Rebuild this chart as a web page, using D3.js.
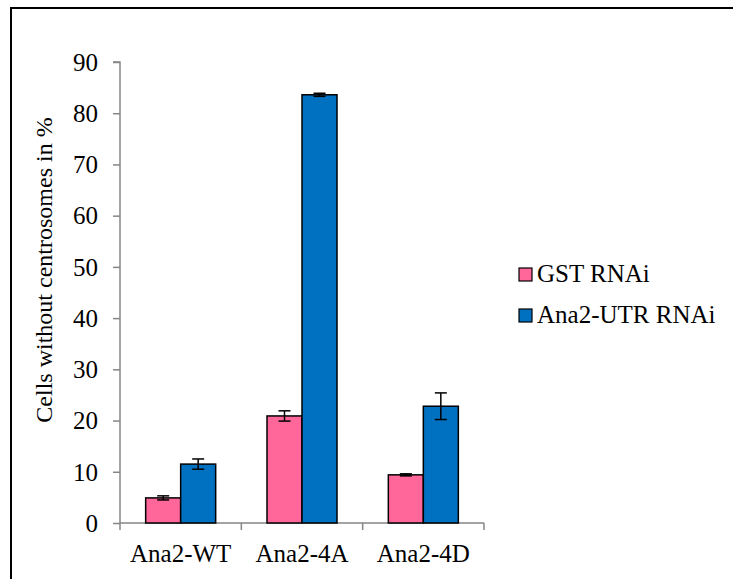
<!DOCTYPE html>
<html><head><meta charset="utf-8">
<script src="https://cdn.jsdelivr.net/npm/d3@7"></script>
</head><body style="margin:0">
<svg id="c" width="733" height="579" font-family="Liberation Serif"></svg>
<script>
const categories = ["Ana2-WT", "Ana2-4A", "Ana2-4D"];
const seriesNames = ["GST RNAi", "Ana2-UTR RNAi"];
const gstValues = [4.9, 20.9, 9.4];
const gstErrors = [0.4, 1.0, 0.2];
const utrValues = [11.5, 83.6, 22.8];
const utrErrors = [1.0, 0.3, 2.6];
const yTicks = [0, 10, 20, 30, 40, 50, 60, 70, 80, 90];
const colors = ["#ff6699", "#0070c0"];
const FONT = "Liberation Serif";

const svg = d3.select("#c");
svg.append("rect").attr("x", 11).attr("y", 8).attr("width", 730).attr("height", 580)
  .attr("fill", "none").attr("stroke", "#000").attr("stroke-width", 2);

const pL = 120, pR = 484, pT = 62, pB = 523;
const x = d3.scaleBand().domain(categories).range([pL, pR]);
const y = d3.scaleLinear().domain([0, 90]).range([pB, pT]);
const inner = d3.scaleBand().domain(seriesNames).range([0, 70]);

const yAxis = svg.append("g").attr("transform", `translate(${pL},0)`)
  .call(d3.axisLeft(y).tickValues(yTicks).tickSize(7).tickPadding(15));
yAxis.attr("font-family", FONT).attr("font-size", 25);
yAxis.select(".domain").attr("stroke", "#868686").attr("stroke-width", 1.5).attr("d", `M-7,${pT}H0V${pB}`);
yAxis.selectAll(".tick line").attr("stroke", "#868686").attr("stroke-width", 1.5);
yAxis.selectAll("text").style("font-family", FONT).attr("font-size", 25).attr("fill", "#000").attr("dy", "0.33em");

const xAxis = svg.append("g").attr("transform", `translate(0,${pB})`);
xAxis.append("path").attr("d", `M${pL},0H${pR}`).attr("stroke", "#868686").attr("stroke-width", 1.5);
const tickPos = categories.map(c => x(c)).concat([pR]);
xAxis.selectAll("line.t").data(tickPos).join("line").attr("x1", d => d).attr("x2", d => d)
  .attr("y1", 0).attr("y2", 7).attr("stroke", "#868686").attr("stroke-width", 1.5);
xAxis.selectAll("text.cat").data(categories).join("text").attr("class", "cat")
  .attr("x", d => x(d) + x.bandwidth() / 2).attr("y", 39).attr("text-anchor", "middle")
  .style("font-family", FONT).attr("font-size", 25).attr("fill", "#000").text(d => d);

svg.append("text").attr("transform", `translate(52,270) rotate(-90)`)
  .attr("text-anchor", "middle").style("font-family", FONT).attr("font-size", 24).attr("fill", "#000")
  .text("Cells without centrosomes in %");

const series = [
  {name: seriesNames[0], vals: gstValues, errs: gstErrors, color: colors[0]},
  {name: seriesNames[1], vals: utrValues, errs: utrErrors, color: colors[1]}
];
series.forEach(s => {
  const g = svg.append("g");
  categories.forEach((c, i) => {
    const bx = x(c) + (x.bandwidth() - 70) / 2 + inner(s.name);
    g.append("rect").attr("x", bx).attr("y", y(s.vals[i])).attr("width", inner.bandwidth())
      .attr("height", y(0) - y(s.vals[i])).attr("fill", s.color).attr("stroke", "#000").attr("stroke-width", 1.5);
    const cx = bx + inner.bandwidth() / 2;
    const y1 = y(s.vals[i] + s.errs[i]), y2 = y(s.vals[i] - s.errs[i]);
    g.append("line").attr("x1", cx).attr("x2", cx).attr("y1", y1).attr("y2", y2).attr("stroke", "#000").attr("stroke-width", 1.5);
    [y1, y2].forEach(yy => g.append("line").attr("x1", cx - 6).attr("x2", cx + 6).attr("y1", yy).attr("y2", yy)
      .attr("stroke", "#000").attr("stroke-width", 1.5));
  });
});

const leg = svg.append("g");
series.forEach((s, i) => {
  const ly = 282 + i * 41;
  leg.append("rect").attr("x", 519).attr("y", ly - 14).attr("width", 13).attr("height", 13)
    .attr("fill", s.color).attr("stroke", "#000").attr("stroke-width", 1.2);
  leg.append("text").attr("x", 537).attr("y", ly).style("font-family", FONT).attr("font-size", 25)
    .attr("fill", "#000").text(s.name);
});
</script></body></html>
